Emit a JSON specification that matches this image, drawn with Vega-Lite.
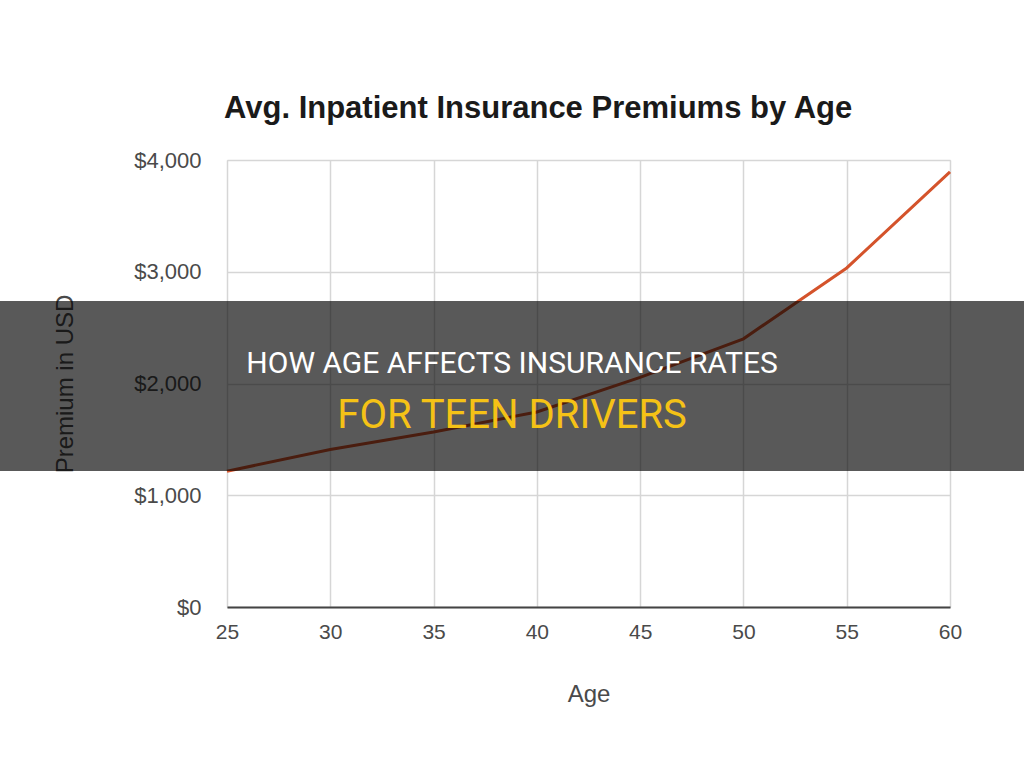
{
  "$schema": "https://vega.github.io/schema/vega-lite/v6.json",
  "autosize": "none",
  "width": 723,
  "height": 447,
  "padding": {"left": 227, "top": 160, "right": 74, "bottom": 161},
  "background": "white",
  "title": {
    "text": "Avg. Inpatient Insurance Premiums by Age",
    "anchor": "start",
    "frame": "group",
    "font": "Liberation Sans",
    "fontSize": 31,
    "fontWeight": "bold",
    "color": "#1a1a1a",
    "offset": 24,
    "dx": -3
  },
  "datasets": {
    "premiums": [
      {"age": 25, "premium": 1215},
      {"age": 30, "premium": 1410},
      {"age": 35, "premium": 1566},
      {"age": 40, "premium": 1745},
      {"age": 45, "premium": 2055},
      {"age": 50, "premium": 2400},
      {"age": 55, "premium": 3034},
      {"age": 60, "premium": 3893}
    ],
    "band": [{"x1": 14.0, "x2": 63.6, "y1": 2738, "y2": 1217}],
    "banner": [
      {"x": 38.8, "y": 2094, "label": "HOW AGE AFFECTS INSURANCE RATES", "kind": "a"},
      {"x": 38.8, "y": 1605, "label": "FOR TEEN DRIVERS", "kind": "b"}
    ]
  },
  "layer": [
    {
      "data": {"name": "premiums"},
      "mark": {"type": "line", "color": "#d4532b", "strokeWidth": 3},
      "encoding": {
        "x": {
          "field": "age", "type": "quantitative",
          "scale": {"domain": [25, 60], "nice": false, "zero": false},
          "axis": {
            "title": "Age", "values": [25, 30, 35, 40, 45, 50, 55, 60],
            "labelFont": "Liberation Sans", "labelFontSize": 21, "labelColor": "#4a4a4a",
            "labelPadding": 14, "ticks": false, "labelFlush": false,
            "titleFont": "Liberation Sans", "titleFontSize": 24, "titleFontWeight": "normal",
            "titleColor": "#4a4a4a", "titlePadding": 40,
            "domain": true, "domainColor": "#444", "domainWidth": 2,
            "grid": true, "gridColor": "#d6d6d6", "gridWidth": 1.5
          }
        },
        "y": {
          "field": "premium", "type": "quantitative",
          "scale": {"domain": [0, 4000], "nice": false},
          "axis": {
            "title": "Premium in USD", "values": [0, 1000, 2000, 3000, 4000],
            "format": "$,.0f",
            "labelFont": "Liberation Sans", "labelFontSize": 22, "labelColor": "#4a4a4a",
            "labelPadding": 26, "ticks": false, "domain": false, "labelFlush": false,
            "titleFont": "Liberation Sans", "titleFontSize": 24, "titleFontWeight": "normal",
            "titleColor": "#4a4a4a", "titlePadding": 56,
            "grid": true, "gridColor": "#d6d6d6", "gridWidth": 1.5
          }
        }
      }
    },
    {
      "data": {"name": "band"},
      "mark": {"type": "rect", "color": "black", "opacity": 0.65, "clip": false},
      "encoding": {
        "x": {"field": "x1", "type": "quantitative"},
        "x2": {"field": "x2"},
        "y": {"field": "y1", "type": "quantitative"},
        "y2": {"field": "y2"}
      }
    },
    {
      "data": {"name": "banner"},
      "mark": {"type": "text", "font": "Roboto", "baseline": "alphabetic", "align": "center"},
      "encoding": {
        "x": {"field": "x", "type": "quantitative"},
        "y": {"field": "y", "type": "quantitative"},
        "text": {"field": "label"},
        "color": {
          "field": "kind", "type": "nominal",
          "scale": {"domain": ["a", "b"], "range": ["#ffffff", "#f5c216"]},
          "legend": null
        },
        "size": {
          "field": "kind", "type": "nominal",
          "scale": {"domain": ["a", "b"], "range": [30, 40]},
          "legend": null
        }
      }
    }
  ]
}
